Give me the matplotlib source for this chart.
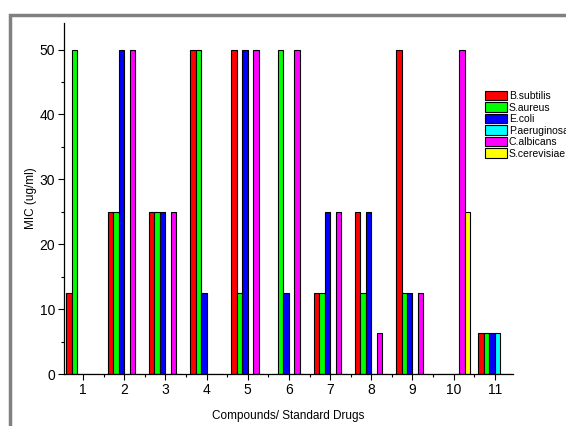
import numpy as np
import matplotlib.pyplot as plt
from matplotlib.patches import Rectangle
from matplotlib.ticker import MultipleLocator

plt.rcParams['font.family'] = ['Liberation Sans', 'DejaVu Sans']

compounds = np.arange(1, 12)
species = ["B.subtilis", "S.aureus", "E.coli", "P.aeruginosa", "C.albicans", "S.cerevisiae"]
colors = ["#FF0000", "#00FF00", "#0000FF", "#00FFFF", "#FF00FF", "#FFFF00"]

# MIC values per compound (1..11), 0 = not shown
b_subtilis = [12.5, 25, 25, 50, 50, 0, 12.5, 25, 50, 0, 6.25]
s_aureus = [50, 25, 25, 50, 12.5, 50, 12.5, 12.5, 12.5, 0, 6.25]
e_coli = [0, 50, 25, 12.5, 50, 12.5, 25, 25, 12.5, 0, 6.25]
p_aeruginosa = [0, 0, 0, 0, 0, 0, 0, 0, 0, 0, 6.25]
c_albicans = [0, 50, 25, 0, 50, 50, 25, 6.25, 12.5, 50, 0]
s_cerevisiae = [0, 0, 0, 0, 0, 0, 0, 0, 0, 25, 0]
series = [b_subtilis, s_aureus, e_coli, p_aeruginosa, c_albicans, s_cerevisiae]

fig = plt.figure(figsize=(5.66, 4.26), dpi=100)
ax = fig.add_axes([64 / 566, 1 - 374 / 426, 449 / 566, 351 / 426])

width = 0.8 / len(series)
for i, (vals, name, col) in enumerate(zip(series, species, colors)):
    ax.bar(compounds + (i - 2.5) * width, vals, width, color=col,
           edgecolor="black", linewidth=0.8, label=name)

ax.set_xlim(0.54, 11.44)
ax.set_ylim(0, 54.1)
ax.set_xticks(compounds)
ax.xaxis.set_minor_locator(MultipleLocator(0.5))
ax.set_yticks(np.arange(0, 51, 10))
ax.yaxis.set_minor_locator(MultipleLocator(5))
ax.tick_params(axis="both", which="major", direction="out", length=4.5, width=0.8,
               labelsize=10, pad=2)
ax.tick_params(axis="both", which="minor", direction="out", length=2.5, width=0.8)
for s in ["top", "right"]:
    ax.spines[s].set_visible(False)
for s in ["left", "bottom"]:
    ax.spines[s].set_linewidth(0.9)

ax.set_xlabel("Compounds/ Standard Drugs", fontsize=8.5)
ax.set_ylabel("MIC (ug/ml)", fontsize=8.5)
ax.xaxis.set_label_coords(0.5, -0.102)
ax.yaxis.set_label_coords(-0.06, 0.5)

ax.legend(loc="upper left", bbox_to_anchor=(485 / 566, 1 - 91 / 426),
          bbox_transform=fig.transFigure, frameon=False, fontsize=7.5,
          handlelength=2.1, handleheight=1.0, handletextpad=0.2,
          labelspacing=0.12, borderpad=0, borderaxespad=0)

# grey frame around the plot page
fig.add_artist(Rectangle((9.5 / 566, -0.1), 1.2, 1 - 14.5 / 426 + 0.1,
                         transform=fig.transFigure, fill=False,
                         edgecolor="#808080", linewidth=2.5))

fig.savefig("out.png", dpi=100)
